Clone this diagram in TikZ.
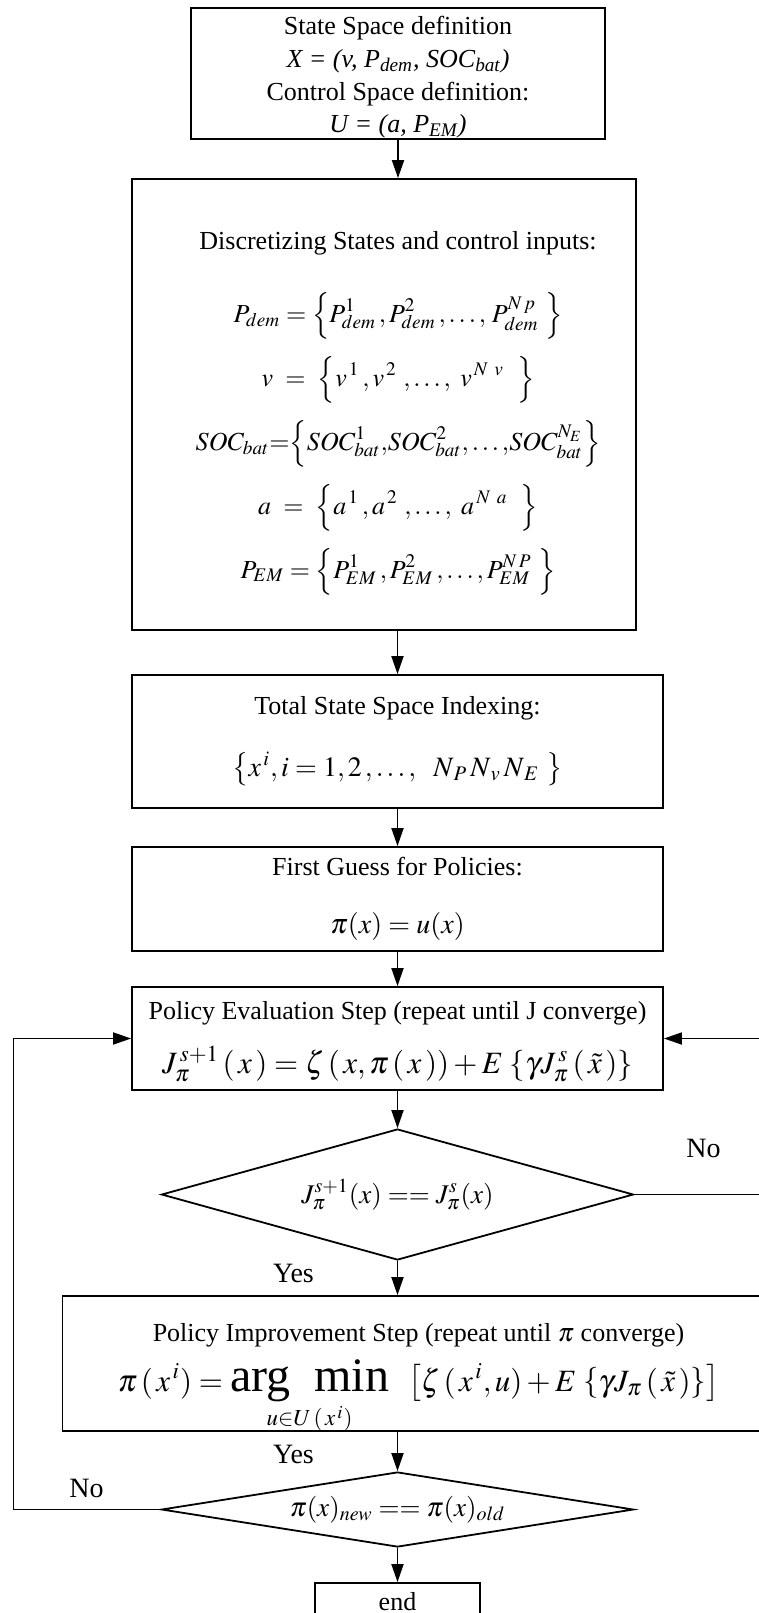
\documentclass[tikz,border=0pt]{standalone}
\usepackage{amsmath}
\usepackage{mathptmx}
\usepackage[no-math]{fontspec}
\setmainfont{Liberation Serif}
\usetikzlibrary{positioning,arrows.meta,shapes.geometric}
\newcommand{\formula}[2][14]{{\fontsize{#1}{#1}\selectfont$\displaystyle #2$}}
\newcommand{\bigop}[1]{\mathop{\mbox{\fontsize{24}{24}\selectfont #1}}}
\newcommand{\tightlines}{\lineskiplimit=-100pt\relax}
\newcommand{\lift}[1]{\rule{0pt}{#1}}
\tikzset{
  stepbox/.style = {rectangle, draw=black, line width=0.9pt, inner sep=0pt, align=center,
                    font={\fontsize{13}{#1}\selectfont\tightlines}},
  stepbox/.default = 15,
  steptext/.style = {inner sep=0pt, align=center, font={\fontsize{13}{#1}\selectfont\tightlines}},
  testbox/.style = {diamond, draw=black, line width=0.9pt, inner sep=0pt, align=center,
                    font=\fontsize{13}{15}\selectfont},
  flow/.style    = {-{Triangle[length=9pt, width=6pt]}, line width=0.9pt, draw=black},
  tag/.style     = {font=\fontsize{14}{16}\selectfont, inner sep=0pt},
}

\begin{document}
\begin{tikzpicture}
  \useasboundingbox (0,0) rectangle (379.5pt,-806.5pt);
  % main column
  \node[stepbox=16.4, minimum width=207pt, minimum height=65.5pt] (statedef) at (199pt,-36.75pt)
    {\lift{13pt}State Space definition\\
     \textit{X = (v, P\textsubscript{dem}, SOC\textsubscript{bat})}\\
     Control Space definition:\\
     \textit{U = (a, P\textsubscript{EM})}};
  \node[stepbox, below=19.1pt of statedef, xshift=-7pt, minimum width=252pt, minimum height=225.5pt] (discbox) {};
  \node[steptext=32, below=26.5pt of discbox.north -| statedef] (disclist)
    {Discretizing States and control inputs:\\[4.25pt]
     \formula[13]{P_{dem} = \Bigl\{ P^{1}_{dem}\, , P^{2}_{dem}\, ,\ldots,\, P^{N\,p}_{dem}\ \Bigr\}}\\
     \formula[13]{v\ =\ \Bigl\{ v^{\,1}\, , v^{\,2}\ ,\ldots,\ v^{\,N\ v}\ \ \Bigr\}}\\
     \formula[13]{SOC_{bat}{=}\Bigl\{SOC^{1}_{bat}{,}SOC^{2}_{bat}{,}\ldots{,}SOC^{N_E}_{bat}\Bigr\}}\\
     \formula[13]{a\ =\ \Bigl\{ a^{\,1}\, , a^{\,2}\ ,\ldots,\ a^{\,N\ a}\ \ \Bigr\}}\\
     \formula[13]{P_{EM} = \Bigl\{ P^{1}_{EM}\, , P^{2}_{EM}\, ,\ldots, P^{N\,P}_{EM}\ \Bigr\}}};
  \node[stepbox=31, below=21.6pt of discbox, xshift=6.75pt, minimum width=265.5pt, minimum height=66.5pt] (indexing)
    {Total State Space Indexing:\\
     \formula{\left\{ x^{\,i}, i = 1,2\,,\ldots,\ \ N_{\,P}\,N_{\,v}\,N_{\,E}\ \right\}}};
  \node[stepbox=29, below=18.6pt of indexing, minimum width=265.5pt, minimum height=52pt] (guess)
    {First Guess for Policies:\\
     \formula{\pi(x) = u(x)}};
  \node[stepbox=27, below=17.1pt of guess, minimum width=265.5pt, minimum height=51.5pt] (evalstep)
    {\lift{12.5pt}Policy Evaluation Step (repeat until J converge)\\
     \formula[15.5]{J^{\,s+1}_{\pi}\,(\,x\,) = \zeta\,(\,x, \pi\,(\,x\,)) + E\,\left\{\gamma J^{\,s}_{\pi}\,(\,\tilde{x}\,)\right\}}};
  \node[testbox, below=18.6pt of evalstep, minimum width=236pt, minimum height=65.5pt, shape aspect=3.6] (jtest)
    {\formula[13.5]{J^{s+1}_{\pi}(x) == J^{s}_{\pi}(x)}};
  \node[stepbox, below=17.1pt of jtest, xshift=10.5pt, minimum width=356pt, minimum height=67.5pt] (improve) {};
  \node[steptext=25, yshift=-7.5pt] (improvetext) at (improve.center)
    {Policy Improvement Step (repeat until $\pi$ converge)\\
     \formula[15.5]{\pi\,(\,x^{\,i}) = \bigop{arg\ \ min}\limits_{u\in U\,(\,x^{\,i})}\ \ \left[\zeta\,(\,x^{\,i}, u) + E\,\left\{\gamma J_{\pi}\,(\,\tilde{x}\,)\right\}\right]}};
  \node[testbox, below=19.6pt of improve, xshift=-10.5pt, minimum width=236pt, minimum height=37.5pt, shape aspect=6.3] (pitest)
    {\formula[13.5]{\pi(x)_{new} == \pi(x)_{old}}};
  \node[stepbox, below=17.1pt of pitest, minimum width=82.5pt, minimum height=18.5pt] (finish) {end};
  % connectors
  \draw[flow] (statedef) -- (statedef |- discbox.north);
  \draw[flow] (indexing |- discbox.south) -- (indexing);
  \draw[flow] (indexing) -- (guess);
  \draw[flow] (guess) -- (evalstep);
  \draw[flow] (evalstep) -- (jtest);
  \draw[flow] (jtest) -- (jtest |- improve.north);
  \draw[flow] (pitest |- improve.south) -- (pitest);
  \draw[flow] (pitest) -- (finish);
  % feedback loops
  \coordinate (leftrail) at (6.7pt,0);
  \coordinate (rightrail) at (386pt,0);
  \draw[flow] (pitest.west) -- (pitest.west -| leftrail) |- (evalstep.west);
  \draw[flow] (jtest.east) -- (jtest.east -| rightrail) |- (evalstep.east);
  % branch labels
  \node[tag, xshift=34.5pt, yshift=23pt] (jno) at (jtest.east) {No};
  \node[tag, xshift=-52pt, yshift=-6.5pt] (jyes) at (jtest.south) {Yes};
  \node[tag, xshift=-52pt, yshift=8.5pt] (piyes) at (pitest.north) {Yes};
  \node[tag, xshift=-37pt, yshift=10.5pt] (pino) at (pitest.west) {No};
\end{tikzpicture}
\end{document}
